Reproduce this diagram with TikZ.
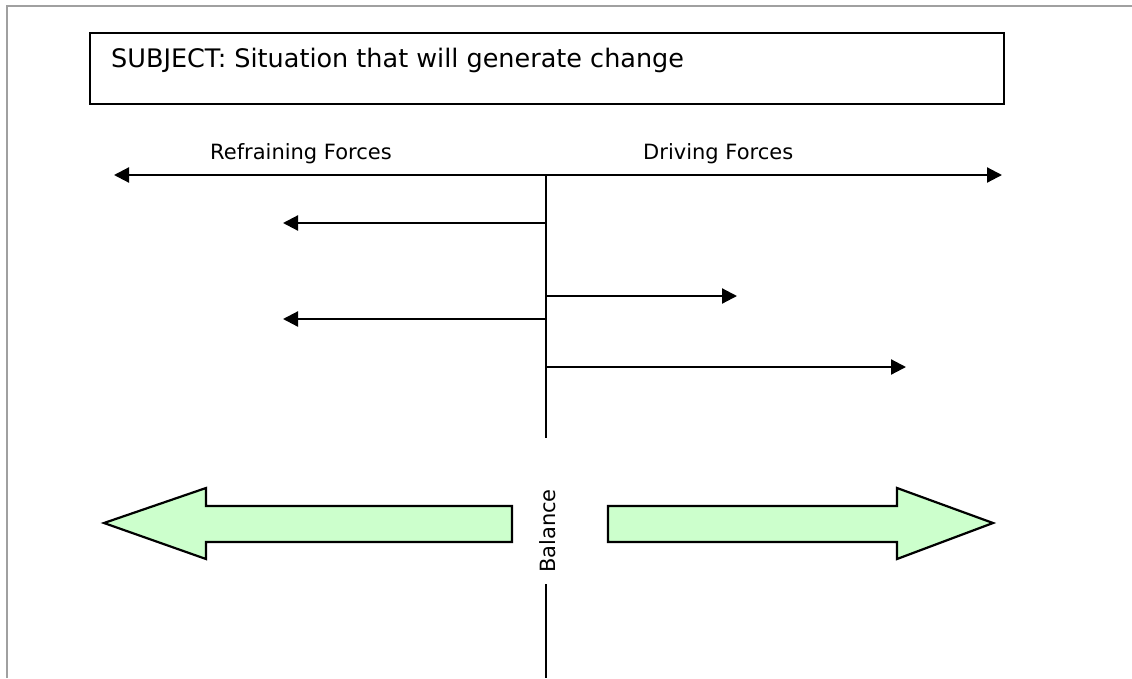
\documentclass[tikz,border=0pt]{standalone}
\usepackage{fontspec}
\setmainfont{DejaVu Sans}
\usetikzlibrary{arrows.meta}
\definecolor{framegray}{HTML}{A0A0A0}
\definecolor{palegreen}{HTML}{CCFFCC}
\begin{document}
\begin{tikzpicture}[x=1pt,y=-1pt,
  axisline/.style={line width=2.2pt},
  force/.style={line width=2.2pt,-{Triangle[length=15pt,width=15pt]}},
  bothways/.style={line width=2.2pt,{Triangle[length=15pt,width=15pt]}-{Triangle[length=15pt,width=15pt]}},
  lbl/.style={font=\fontsize{21pt}{25pt}\selectfont,inner sep=0pt},
  bigarrow/.style={draw,line width=2.2pt,fill=palegreen,line join=miter}]
\useasboundingbox (0,0) rectangle (1132,678);

% page frame
\draw[framegray,line width=2pt] (7,678) -- (7,6) -- (1132,6);

% subject box
\node[draw,line width=2.2pt,minimum width=914pt,minimum height=71pt,inner sep=0pt,anchor=north west] (subject) at (89,32) {};
\node[font=\fontsize{25.5pt}{30pt}\selectfont,inner sep=0pt,anchor=base west] (subjecttext) at (111,67) {SUBJECT: Situation that will generate change};

% headings
\node[lbl,anchor=base west] (refrain) at (210,159) {Refraining Forces};
\node[lbl,anchor=base west] (driving) at (643,159) {Driving Forces};

% main axis
\coordinate (leftend) at (114,175);
\coordinate (rightend) at (1002,175);
\coordinate (axtop) at (546,175);
\coordinate (axgap1) at (546,438);
\coordinate (axgap2) at (546,584);
\coordinate (axbottom) at (546,678);
\draw[bothways] (leftend) -- (rightend);
\draw[axisline] (axtop) -- (axgap1);
\draw[axisline] (axgap2) -- (axbottom);

% individual forces
\coordinate (r1s) at (546,223); \coordinate (r1e) at (283,223);
\coordinate (d1s) at (546,296); \coordinate (d1e) at (737,296);
\coordinate (r2s) at (546,319); \coordinate (r2e) at (283,319);
\coordinate (d2s) at (546,367); \coordinate (d2e) at (906,367);
\draw[force] (r1s) -- (r1e);
\draw[force] (d1s) -- (d1e);
\draw[force] (r2s) -- (r2e);
\draw[force] (d2s) -- (d2e);

% balance
\node[lbl,rotate=90] (balance) at (548,531) {Balance};
\draw[bigarrow] (512,506) -- (206,506) -- (206,488) -- (104,523) -- (206,559) -- (206,542) -- (512,542) -- cycle;
\draw[bigarrow] (608,506) -- (897,506) -- (897,488) -- (993,523) -- (897,559) -- (897,542) -- (608,542) -- cycle;
\end{tikzpicture}
\end{document}
